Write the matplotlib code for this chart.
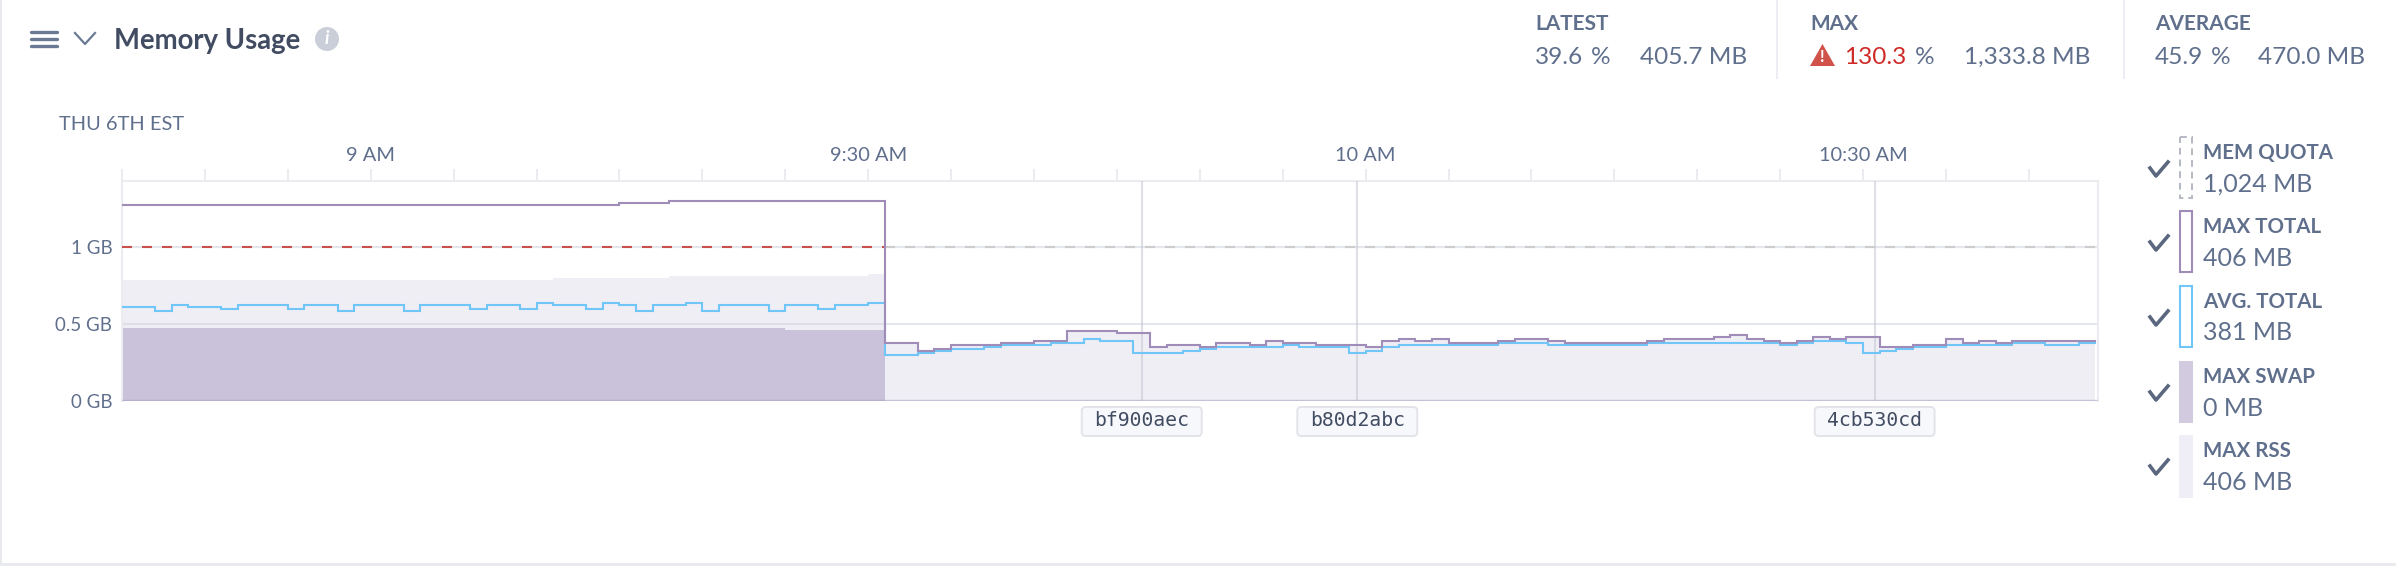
import numpy as np
import matplotlib
matplotlib.use('Agg')
import matplotlib.pyplot as plt
from matplotlib.patches import Rectangle, Polygon, Circle, FancyBboxPatch

plt.rcParams['font.family'] = ['Lato', 'DejaVu Sans']

W, H = 2396, 568

# one value per minute, minute 0 is 8:45
avg_total = [.61, .61, .584, .623, .61, .61, .597, .623, .623, .623, .597, .623, .623, .584, .623, .623, .623,
             .584, .623, .623, .623, .597, .623, .623, .597, .636, .623, .623, .597, .636, .623, .584, .623,
             .623, .636, .584, .623, .623, .623, .584, .623, .623, .597, .623, .623, .636,
             .297, .297, .31, .323, .336, .336, .349, .362, .362, .362, .375, .375, .401, .388, .388, .31,
             .31, .31, .323, .336, .349, .349, .349, .349, .362, .349, .349, .349, .31, .323, .349, .362,
             .362, .362, .362, .362, .362, .375, .375, .375, .362, .362, .362, .362, .362, .362, .375, .375,
             .375, .375, .375, .375, .375, .375, .362, .375, .388, .388, .375, .31, .323, .336, .349, .349,
             .362, .362, .362, .362, .375, .375, .362, .362, .375]
max_total = [1.271] * 30 + [1.284] * 3 + [1.297] * 13 + \
            [.375, .375, .323, .336, .362, .362, .362, .375, .375, .388, .388, .453, .453, .453, .44, .44,
             .349, .362, .362, .349, .375, .375, .362, .388, .375, .375, .362, .362, .362, .349, .388, .401,
             .388, .401, .375, .375, .375, .388, .401, .401, .388, .375, .375, .375, .375, .375, .388, .401,
             .401, .401, .414, .427, .401, .388, .375, .388, .414, .401, .414, .414, .349, .349, .362, .362,
             .401, .375, .388, .375, .388, .388, .388, .388, .388]
max_rss = [.784] * 26 + [.797] * 7 + [.81] * 12 + [.823] + max_total[46:]
max_swap = [.472] * 40 + [.459] * 6 + [0] * 73
mem_quota = [1.0] * 119

y_ticks = [0, 0.5, 1]
y_labels = ['0 GB', '0.5 GB', '1 GB']
time_ticks = [15, 45, 75, 105]
time_labels = ['9 AM', '9:30 AM', '10 AM', '10:30 AM']
deploy_minutes = [61.5, 74.5, 105.7]
deploy_labels = ['bf900aec', 'b80d2abc', '4cb530cd']

legend_names = ['MEM QUOTA', 'MAX TOTAL', 'AVG. TOTAL', 'MAX SWAP', 'MAX RSS']
legend_values = ['1,024 MB', '406 MB', '381 MB', '0 MB', '406 MB']

PURPLE = '#a08cb9'
BLUE = '#70c6f7'
TEXT = '#5f6f8c'
DARK = '#414c62'
BORDER = '#ebecf0'

minutes = np.arange(120)


def ext(vals):
    return np.append(vals, vals[-1])


fig = plt.figure(figsize=(W / 100, H / 100), dpi=100)

ax = fig.add_axes([122 / W, 1 - 401 / H, 1976 / W, 220 / H])
ax.set_xlim(0, 119.17)
ax.set_ylim(0, 1.43)

ax.fill_between(minutes, ext(max_rss), step='post', color='#f0eef5', lw=0, zorder=1)
ax.fill_between(minutes[:47], ext(max_swap[:46]), step='post', color='#cac1da', lw=0, zorder=2)

ax.set_yticks(y_ticks, y_labels)
ax.grid(axis='y', color='#cbd0dd', alpha=0.5, lw=1.5, zorder=3)
ax.axhline(0, color='#8f7fb0', alpha=0.3, lw=2.5, zorder=3, clip_on=True)
ax.vlines(deploy_minutes, 0, 1.43, color='#b9bcc9', alpha=0.45, lw=1.5, zorder=3)

ax.plot(minutes[:47], ext(mem_quota[:46]), color='#c9504a', lw=1.5, dashes=(4.8, 4.8), zorder=4)
ax.plot(minutes[46:], mem_quota[46:] + [1.0], color='#cccccc', lw=1.5, dashes=(4.8, 4.8), zorder=4)
ax.step(minutes, ext(max_total), where='post', color=PURPLE, lw=1.5, zorder=5, solid_joinstyle='miter')
ax.step(minutes, ext(avg_total), where='post', color=BLUE, lw=1.5, zorder=4.5, solid_joinstyle='miter')

ax.xaxis.tick_top()
ax.set_xticks(np.arange(0, 120, 5), minor=True)
ax.set_xticks(time_ticks, time_labels)
ax.tick_params(axis='x', which='both', length=9, width=1.5, color=BORDER, labelcolor=TEXT, labelsize=14.4, pad=3)
ax.tick_params(axis='y', length=0, labelcolor=TEXT, labelsize=13.5, pad=7)
for s in ['top', 'left', 'right']:
    ax.spines[s].set_color(BORDER)
    ax.spines[s].set_linewidth(1.5)
ax.spines['bottom'].set_visible(False)

# chrome drawn in pixel coordinates of the page
ov = fig.add_axes([0, 0, 1, 1], zorder=-1)
ov.set_xlim(0, W)
ov.set_ylim(H, 0)
ov.axis('off')
ov.plot([1, 1], [0, 563], color='#e8e9ed', lw=1.5)
ov.plot([0, W], [564, 564], color='#e8e9ed', lw=2)

for m, lab in zip(deploy_minutes, deploy_labels):
    x = 122 + m / 119.17 * 1976
    ov.add_patch(FancyBboxPatch((x - 58, 409), 116, 25, boxstyle='round,pad=2,rounding_size=4',
                                fc='#f7f8fb', ec='#e2e4ea', lw=1.4))
    ov.text(x, 421, lab, ha='center', va='center', family='DejaVu Sans Mono', fontsize=14.2, color=DARK)

for y in [32, 39, 46]:
    ov.plot([31, 57], [y, y], color='#6b7a94', lw=2.4, solid_capstyle='round')
ov.plot([75, 85, 95], [33, 44, 33], color='#6b7a94', lw=1.6)
ov.text(114, 41, 'Memory Usage', fontsize=19.8, fontweight='bold', color=DARK, va='center')
ov.add_patch(Circle((327, 39), 12, color='#c9ced8', lw=0))
ov.text(327, 39, 'i', color='white', fontsize=13, fontweight='bold', style='italic', ha='center', va='center')
ov.text(59, 125, 'THU 6TH EST', fontsize=14.4, color=TEXT, va='center')


def head(x, label):
    ov.text(x, 24, label, fontsize=15, fontweight='bold', color=TEXT, va='center')


def val(x, s, color=TEXT):
    ov.text(x, 57, s, fontsize=17.6, color=color, va='center')


head(1535, 'LATEST')
val(1535, '39.6')
val(1591, '%')
val(1640, '405.7 MB')
head(1810, 'MAX')
ov.add_patch(Polygon([[1822.5, 44], [1835, 66], [1810, 66]], closed=True, color='#d0524a', lw=0))
ov.text(1822.5, 57, '!', color='white', fontsize=12, fontweight='bold', ha='center', va='center')
val(1844, '130.3', '#cf2a27')
val(1915, '%')
val(1964, '1,333.8 MB')
head(2155, 'AVERAGE')
val(2155, '45.9')
val(2211, '%')
val(2258, '470.0 MB')
for x in [1777, 2124]:
    ov.plot([x, x], [0, 78], color='#eceef3', lw=1.5)

tops = [137, 211, 286, 361, 435]
for i, (top, name, value) in enumerate(zip(tops, legend_names, legend_values)):
    ov.plot([2150, 2156, 2168], [31 + top, 39 + top, 25 + top], color='#5a677f', lw=2.6)
    if i == 0:
        ov.add_patch(Rectangle((2180, top), 12, 61, fc='white', ec='#b4b9c4', lw=1.4, ls=(0, (3.5, 2.5))))
    elif i == 1:
        ov.add_patch(Rectangle((2180, top), 12, 61, fc='white', ec=PURPLE, lw=1.5))
    elif i == 2:
        ov.add_patch(Rectangle((2180, top), 12, 61, fc='white', ec=BLUE, lw=1.5))
    elif i == 3:
        ov.add_patch(Rectangle((2179, top), 14, 62, fc='#d2cbe0', lw=0))
    else:
        ov.add_patch(Rectangle((2179, top), 14, 63, fc='#efedf5', lw=0))
    ov.text(2203, top + 16, name, fontsize=14.8, fontweight='bold', color=TEXT, va='center')
    ov.text(2203, top + 47, value, fontsize=18, color=TEXT, va='center')

fig.savefig('out.png', dpi=100)
